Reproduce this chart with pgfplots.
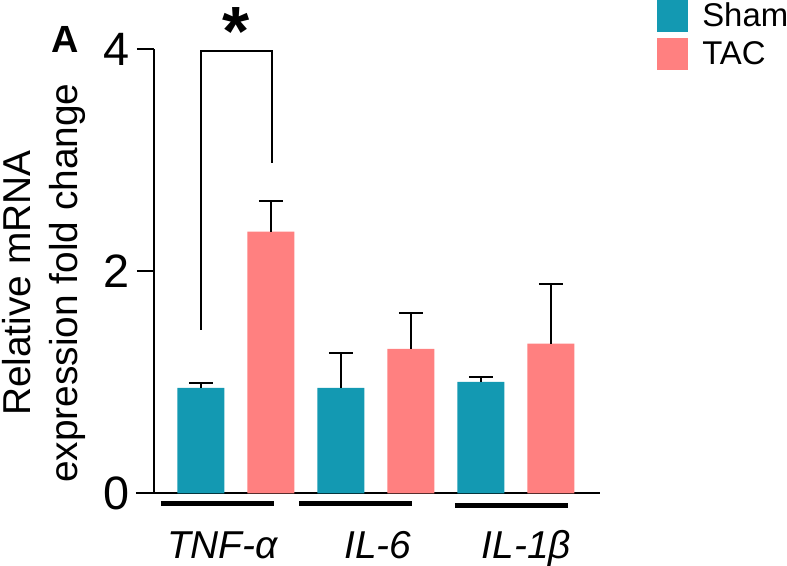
\documentclass[border=0pt]{standalone}
\usepackage{pgfplots}
\pgfplotsset{compat=1.18}
\usepackage{fontspec}
\setmainfont{Liberation Sans}
\definecolor{shamc}{RGB}{19,153,178}
\definecolor{tacc}{RGB}{255,128,128}
\begin{document}
\begin{tikzpicture}
\path[use as bounding box] (0,0) rectangle (787bp,-566bp);
\begin{axis}[
 at={(154bp,-493.3bp)}, anchor=south west,
 scale only axis, width=446bp, height=444.3bp,
 xmin=-0.6686, xmax=5.7029, ymin=0, ymax=4,
 clip=false,
 axis x line*=bottom, axis y line*=left,
 axis line style={-, line width=2bp, black},
 x axis line style={-, shorten <=-18bp},
 y axis line style={-},
 ytick={0,2,4}, tick align=outside, major tick length=17bp,
 ytick style={line width=2bp, black},
 yticklabel style={font=\fontsize{47}{56}\selectfont, inner sep=0pt, xshift=-7bp},
 xtick={0.31,2.53,4.65}, xticklabels={TNF-α, IL-6, IL-1β},
 xtick style={draw=none},
 xticklabel style={font=\fontsize{39}{47}\selectfont\itshape, anchor=base, inner sep=0pt, yshift=-47.7bp},
 /pgf/number format/assume math mode=true,
 ylabel={Relative mRNA\\expression fold change},
 ylabel style={at={(axis description cs:-0.2475,0.473)}, anchor=center, align=center, inner sep=0pt, font=\fontsize{39}{47}\selectfont},
 legend style={at={(axis description cs:1.1271,1.1103)}, anchor=north west, draw=none, fill=none, inner sep=0pt, outer sep=0pt, row sep=6.4bp, column sep=12bp, font=\fontsize{33}{40}\selectfont, cells={anchor=west, inner sep=0pt}},
 legend cell align=left,
 legend image code/.code={\fill[#1] (0bp,-15.8bp) rectangle (31.6bp,15.8bp);},
]
\addplot[ybar, bar width=47bp, bar shift=0pt, fill=shamc, draw=none,
  error bars/.cd, y dir=plus, y explicit,
  error bar style={line width=2bp, black},
  error mark options={rotate=90, mark size=12bp, line width=2bp, black}]
  coordinates {(0,0.949) +- (0,0.041) (2,0.949) +- (0,0.312) (4,1.003) +- (0,0.045)};
\addlegendentry{Sham}
\addplot[ybar, bar width=47bp, bar shift=0pt, fill=tacc, draw=none,
  error bars/.cd, y dir=plus, y explicit,
  error bar style={line width=2bp, black},
  error mark options={rotate=90, mark size=12bp, line width=2bp, black}]
  coordinates {(1,2.357) +- (0,0.276) (3,1.300) +- (0,0.327) (5,1.348) +- (0,0.538)};
\addlegendentry{TAC}
\addplot[black, line width=2bp, mark=none, forget plot] coordinates {(0,1.471) (0,3.985) (1.02,3.985) (1.02,2.976)};
\addplot[black, line width=5bp, mark=none, forget plot] coordinates {(-0.569,-0.09) (1.05,-0.09)};
\addplot[black, line width=5bp, mark=none, forget plot] coordinates {(1.403,-0.09) (3.013,-0.09)};
\addplot[black, line width=5bp, mark=none, forget plot] coordinates {(3.631,-0.108) (5.25,-0.108)};
\node[anchor=base, inner sep=0pt] at (axis cs:0.5,3.94) {\fontsize{70}{70}\selectfont\bfseries *};
\end{axis}
\node[anchor=base west, inner sep=0pt] at (51bp,-52bp) {\fontsize{38}{44}\selectfont\bfseries A};
\end{tikzpicture}
\end{document}
